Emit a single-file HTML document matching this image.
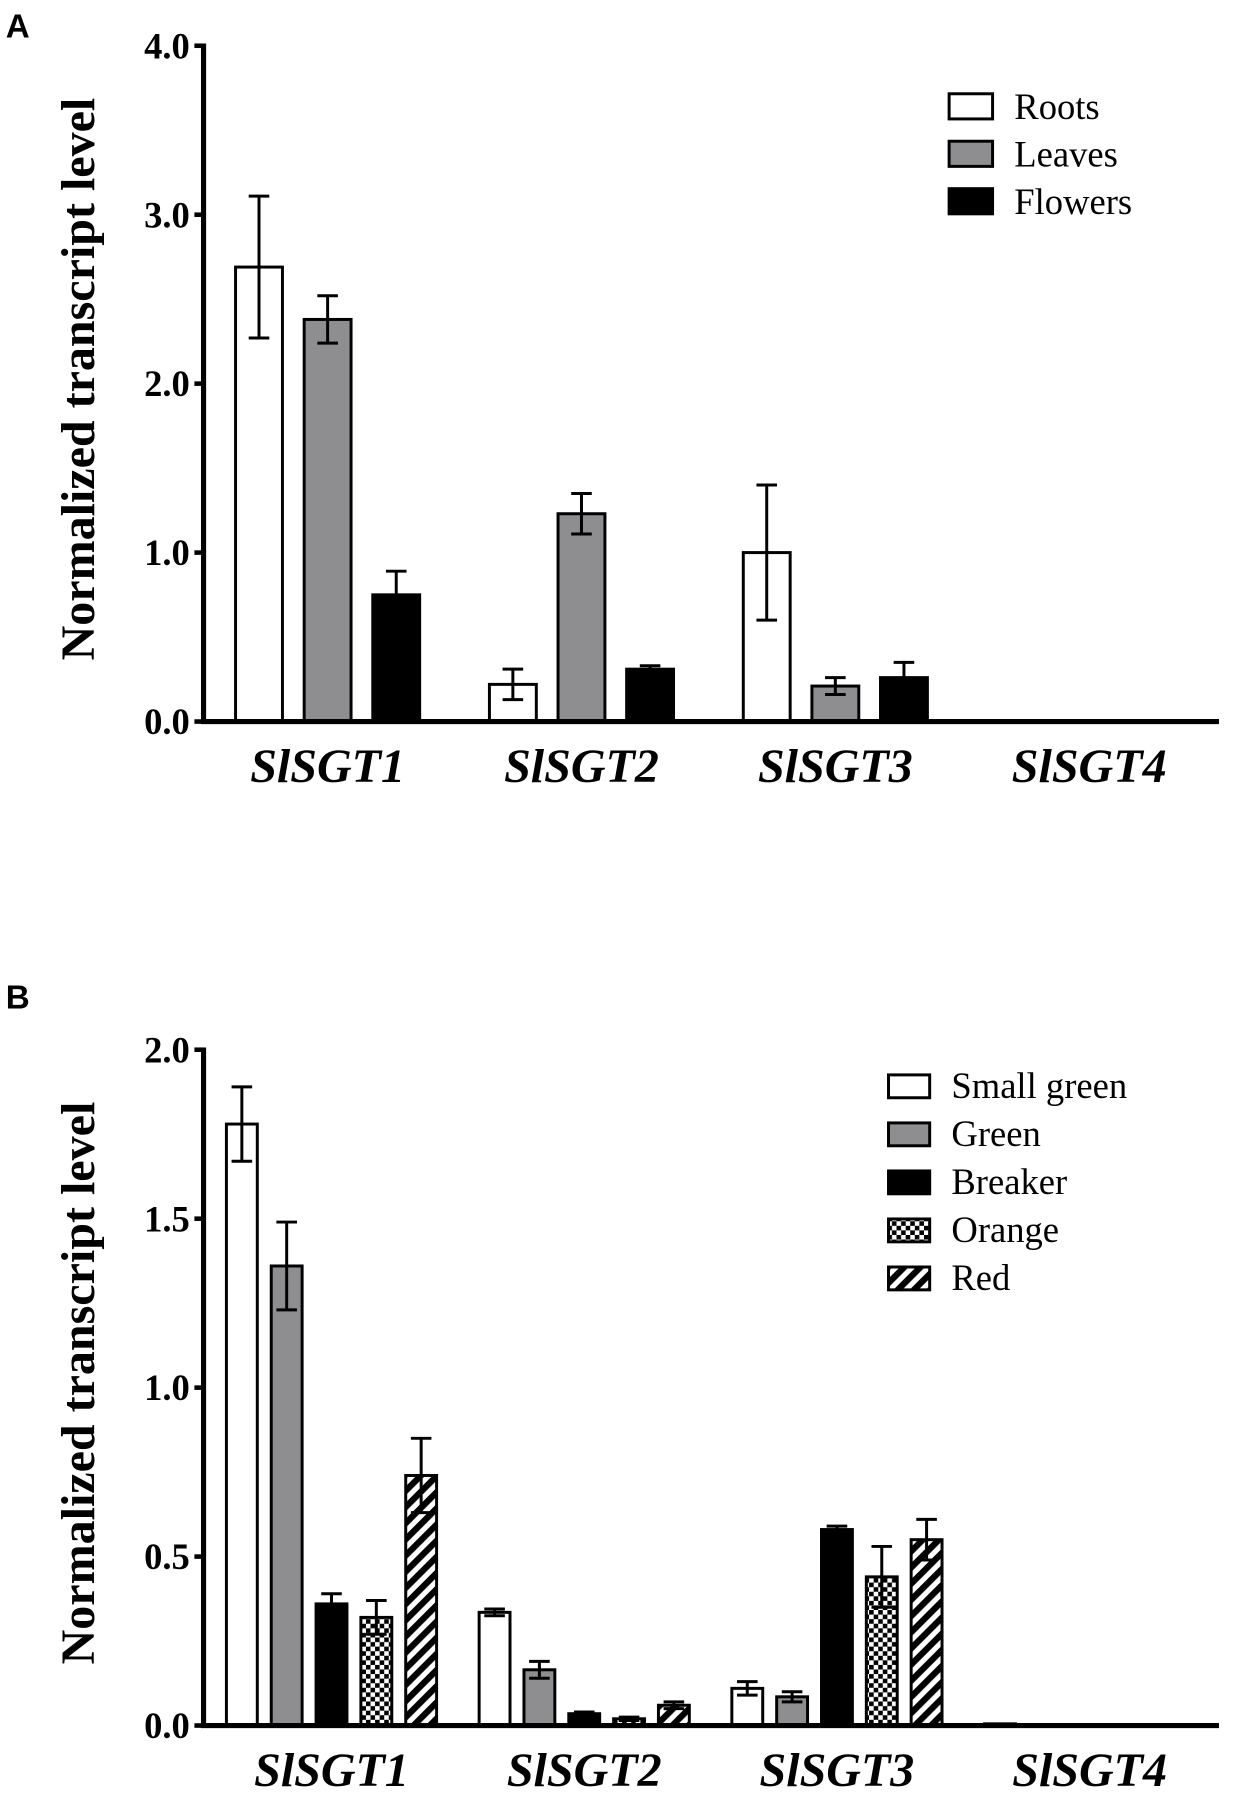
<!DOCTYPE html>
<html><head><meta charset="utf-8"><style>
html,body{margin:0;padding:0;background:#fff;}
svg{display:block;}
text{font-family:"Liberation Serif",serif;}
</style></head><body>
<svg id="fig" width="1235" height="1797" viewBox="0 0 1080 1571.5" preserveAspectRatio="none" xmlns="http://www.w3.org/2000/svg">
<defs>
<pattern id="checker" width="8" height="8" patternUnits="userSpaceOnUse"><rect width="8" height="8" fill="#fff"/><rect width="4" height="4" fill="#000"/><rect x="4" y="4" width="4" height="4" fill="#000"/></pattern>
<pattern id="stripes" width="10" height="10" patternUnits="userSpaceOnUse" patternTransform="rotate(45)"><rect width="10" height="10" fill="#fff"/><rect width="5.5" height="10" fill="#000"/></pattern>
</defs>
<g id="chartA"></g>
<g id="chartB"></g>
</svg>
<script>
const genes = ["SlSGT1","SlSGT2","SlSGT3","SlSGT4"];
const seriesA = ["Roots","Leaves","Flowers"];
const valsA = [[2.69,0.22,1.00,0],[2.38,1.23,0.21,0],[0.75,0.31,0.26,0]];
const errA = [[0.42,0.09,0.40,0],[0.14,0.12,0.05,0],[0.14,0.02,0.09,0]];
const ticksA = [0,1,2,3,4];
const tickLabelsA = ["0.0","1.0","2.0","3.0","4.0"];
const seriesB = ["Small green","Green","Breaker","Orange","Red"];
const valsB = [[1.78,0.335,0.11,0.005],[1.36,0.165,0.085,0],[0.36,0.035,0.58,0],[0.32,0.02,0.44,0.002],[0.74,0.06,0.55,0]];
const errB = [[0.11,0.01,0.02,0],[0.13,0.025,0.015,0],[0.03,0.005,0.01,0],[0.05,0.005,0.09,0],[0.11,0.01,0.06,0]];
const ticksB = [0,0.5,1,1.5,2];
const tickLabelsB = ["0.0","0.5","1.0","1.5","2.0"];

const NS="http://www.w3.org/2000/svg";
function mk(parent,tag,attrs,txt){const e=document.createElementNS(NS,tag);for(const k in attrs)e.setAttribute(k,attrs[k]);if(txt!==undefined)e.textContent=txt;parent.appendChild(e);return e;}
const fills=["#fff","#8e8e91","#000","url(#checker)","url(#stripes)"];

function drawChart(g,cfg){
  const {x0,xEnd,yTop,yZero,maxV,ticks,tickLabels,series,vals,errs,barW,step,groupStart,groupStep,legX,legY,legStep,boxW,boxH,letter,letterY}=cfg;
  const ys=v=>yZero-(v/maxV)*(yZero-yTop);
  const lt=mk(g,"text",{x:5,y:letterY,"font-size":29,"font-weight":"bold",style:"font-family:'Liberation Sans',sans-serif"},letter);
  
  
  const t=mk(g,"text",{x:0,y:0,"font-size":42,"font-weight":"bold","text-anchor":"middle",transform:`translate(82,${(yTop+yZero)/2-4}) rotate(-90)`},"Normalized transcript level");
  
  
  ticks.forEach((v,i)=>{
    const y=ys(v);
    const tk=mk(g,"line",{x1:x0-8,x2:x0,y1:y,y2:y,stroke:"#000","stroke-width":4});
    
    
    const tl=mk(g,"text",{x:x0-12,y:y+11,"font-size":32,"font-weight":"bold","text-anchor":"end"},tickLabels[i]);
    
    
  });
  series.forEach((s,si)=>{
    genes.forEach((gn,gi)=>{
      const v=vals[si][gi], e=errs[si][gi];
      const x=groupStart+gi*groupStep+si*step;
      const y=ys(v);
      const h=Math.max(yZero-y,0.01);
      const r=mk(g,"rect",{x:x,y:y,width:barW,height:h,fill:fills[si],stroke:"#000","stroke-width":2.6});
      
      
      if(e>0){
        const cx=x+barW/2;
        const el=mk(g,"path",{d:`M${cx},${ys(v+e)}V${ys(Math.max(v-e,0))}M${cx-9},${ys(v+e)}H${cx+9}M${cx-9},${ys(Math.max(v-e,0))}H${cx+9}`,stroke:"#000","stroke-width":2.6,fill:"none"});
        
        
      }
    });
    const lb=mk(g,"rect",{x:legX,y:legY+si*legStep,width:boxW,height:boxH,fill:fills[si],stroke:"#000","stroke-width":2.6});
    
    
    const ltx=mk(g,"text",{x:legX+boxW+19,y:legY+si*legStep+boxH,"font-size":32},s);
    
    
  });
  const ax=mk(g,"path",{d:`M${x0},${yTop-2}V${yZero}H${xEnd}`,stroke:"#000","stroke-width":4.5,fill:"none"});
  
  
  genes.forEach((gn,gi)=>{
    const cx=groupStart+gi*groupStep+((series.length-1)*step+barW)/2;
    const xl=mk(g,"text",{x:cx,y:yZero+53,"font-size":42,"font-weight":"bold","font-style":"italic","text-anchor":"middle"},gn);
    
    
  });
}
drawChart(document.getElementById("chartA"),{x0:178,xEnd:1066,yTop:40,yZero:631,maxV:4,ticks:ticksA,tickLabels:tickLabelsA,series:seriesA,vals:valsA,errs:errA,barW:41,step:60,groupStart:206,groupStep:222,legX:830,legY:82,legStep:41.5,boxW:38,boxH:22,letter:"A",letterY:33});
drawChart(document.getElementById("chartB"),{x0:178,xEnd:1066,yTop:918,yZero:1509,maxV:2,ticks:ticksB,tickLabels:tickLabelsB,series:seriesB,vals:valsB,errs:errB,barW:27,step:39.2,groupStart:198,groupStep:221,legX:777,legY:940,legStep:42,boxW:36,boxH:20,letter:"B",letterY:882});
</script>
</body></html>
